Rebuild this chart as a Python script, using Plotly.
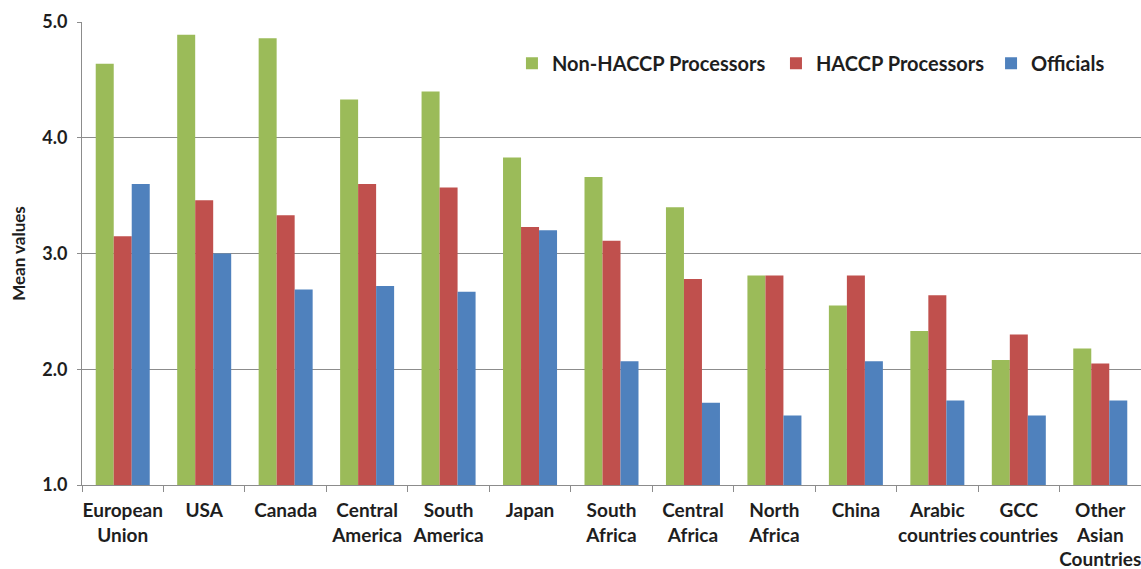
import plotly.graph_objects as go

regions = [
    "European<br>Union", "USA", "Canada", "Central<br>America", "South<br>America",
    "Japan", "South<br>Africa", "Central<br>Africa", "North<br>Africa", "China",
    "Arabic<br>countries", "GCC<br>countries", "Other<br>Asian<br>Countries",
]
non_haccp = [4.64, 4.89, 4.86, 4.33, 4.40, 3.83, 3.66, 3.40, 2.81, 2.55, 2.33, 2.08, 2.18]
haccp = [3.15, 3.46, 3.33, 3.60, 3.57, 3.23, 3.11, 2.78, 2.81, 2.81, 2.64, 2.30, 2.05]
officials = [3.60, 3.00, 2.69, 2.72, 2.67, 3.20, 2.07, 1.71, 1.60, 2.07, 1.73, 1.60, 1.73]
y_ticks = [1.0, 2.0, 3.0, 4.0, 5.0]

FONT = "Lato"
TXT = "#1e1e1e"
GRID = "#8c8c8c"

# name, values, colour, legend id, legend left edge (paper x)
series = [
    ("Non-HACCP Processors", non_haccp, "#9BBB59", "legend", 0.406),
    ("HACCP Processors", haccp, "#C0504D", "legend2", 0.6553),
    ("Officials", officials, "#4F81BD", "legend3", 0.8584),
]

fig = go.Figure()
for name, vals, color, leg, _ in series:
    fig.add_trace(go.Bar(
        x=regions, y=vals, name=name, legend=leg,
        marker=dict(color=color, line=dict(width=0)),
    ))

legend_style = dict(
    orientation="h", yanchor="middle", y=0.911, xanchor="left",
    font=dict(family=FONT, size=20, color=TXT, weight="bold"),
    bgcolor="rgba(0,0,0,0)", borderwidth=0, itemwidth=30,
    tracegroupgap=0,
)

layout_legends = {}
for name, vals, color, leg, lx in series:
    layout_legends[leg] = dict(legend_style, x=lx)

fig.update_layout(
    width=1141, height=569,
    margin=dict(l=82, r=0, t=22, b=84),
    paper_bgcolor="white", plot_bgcolor="white",
    barmode="group", bargap=0.337, bargroupgap=0,
    showlegend=True,
    font=dict(family=FONT, color=TXT),
    xaxis=dict(
        type="category", tickson="boundaries",
        ticks="outside", ticklen=6, tickcolor=GRID, tickwidth=1,
        showline=True, linecolor=GRID, linewidth=1,
        showgrid=False,
        tickfont=dict(family=FONT, size=19, color=TXT, weight="bold"),
        ticklabelstandoff=8,
        tickangle=0,
    ),
    yaxis=dict(
        range=[1.0, 5.0], tickvals=y_ticks, tickformat=".1f",
        ticks="outside", ticklen=4, tickcolor=GRID,
        showline=True, linecolor=GRID, linewidth=1,
        showgrid=True, gridcolor=GRID, gridwidth=1,
        zeroline=False,
        tickfont=dict(family=FONT, size=18, color=TXT, weight="bold"),
        ticklabelstandoff=6,
        title=dict(text="Mean values", standoff=12,
                   font=dict(family=FONT, size=17, color=TXT, weight="bold")),
    ),
    **layout_legends,
)

fig.write_html("out.html")
